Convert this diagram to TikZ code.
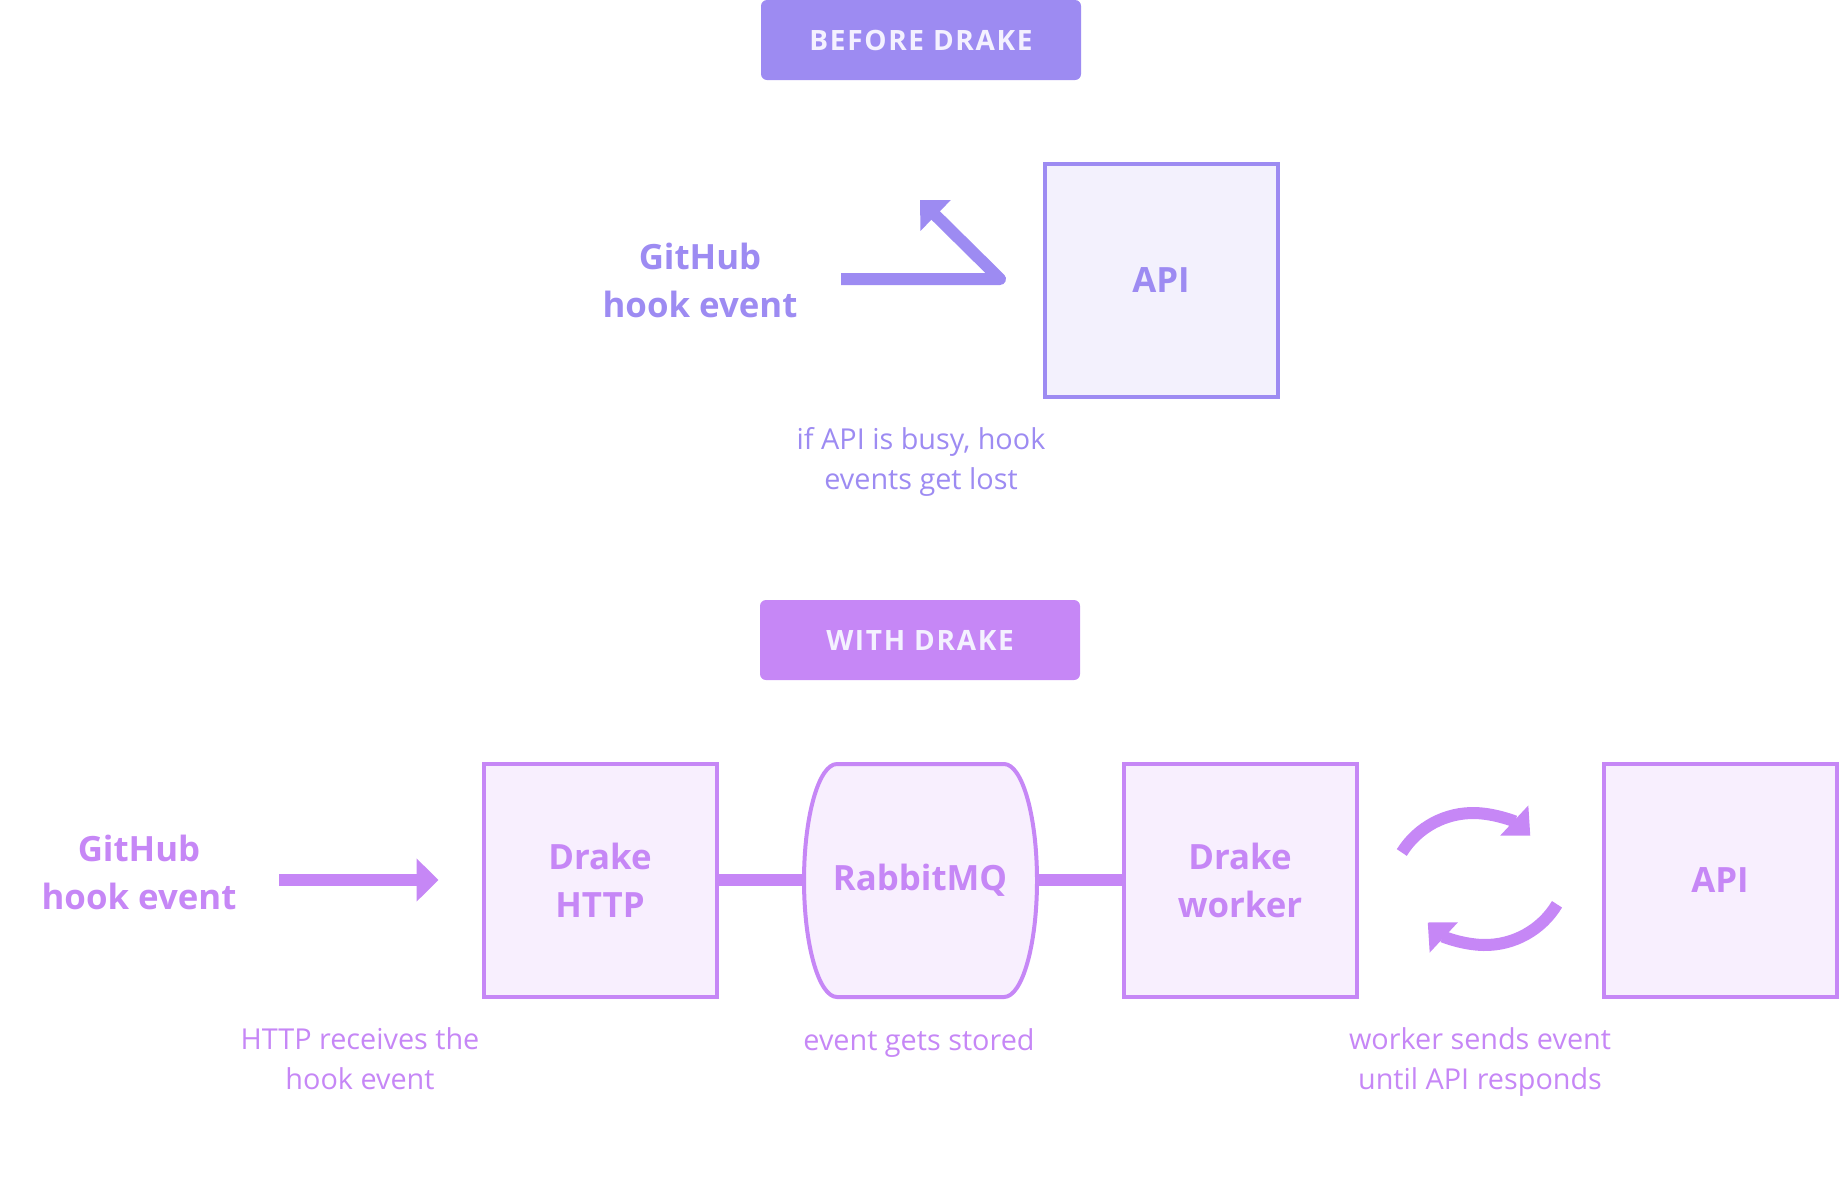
\documentclass[tikz,border=0pt]{standalone}
\usepackage{fontspec}
\setmainfont{Open Sans}
\newfontfamily\bannerfont{Open Sans}[LetterSpace=6]
\usetikzlibrary{arrows.meta}

\definecolor{beforeviolet}{HTML}{9D8BF2}
\definecolor{beforefill}{HTML}{F3F1FD}
\definecolor{withpurple}{HTML}{C687F6}
\definecolor{withfill}{HTML}{F8EFFE}
\definecolor{bannertext}{HTML}{F4F1FF}

\begin{document}
\begin{tikzpicture}[x=0.5pt, y=-0.5pt,
  box/.style={draw, line width=2pt, minimum width=116.5pt, minimum height=116.5pt,
    inner sep=0, align=center, font=\bfseries\fontsize{17.4}{24}\selectfont},
  queue/.style={minimum width=118.5pt, minimum height=118.5pt, inner sep=0, outer sep=0,
    font=\bfseries\fontsize{17.4}{24}\selectfont},
  banner/.style={rounded corners=3pt, minimum width=160pt, minimum height=40pt,
    inner sep=0, text=bannertext, font=\bannerfont\bfseries\fontsize{14}{16}\selectfont},
  hooktext/.style={align=center, inner sep=0, font=\bfseries\fontsize{17.4}{24}\selectfont},
  captiontext/.style={align=center, inner sep=0, font=\fontsize{14.4}{20}\selectfont},
  flow/.style={line width=6pt, line join=round, -{Triangle[length=11pt,width=21pt]}},
  retry/.style={line width=6pt, -{Triangle[length=11pt,width=20pt]}},
  link/.style={line width=6pt}]

  % Fix the page to the size of the reference
  \useasboundingbox (0,0) rectangle (1840,1200);

  % Before Drake: the hook goes straight to the API
  \node[banner, fill=beforeviolet] (before) at (921,40) {BEFORE DRAKE};
  \node[hooktext, text=beforeviolet] (hook1) at (700,280) {GitHub\\hook event};
  \node[box, draw=beforeviolet, fill=beforefill, text=beforeviolet] (api1) at (1161,280) {API};
  \node[captiontext, text=beforeviolet] (lost) at (921,462) {if API is busy, hook\\events get lost};

  % The event bounces back off the busy API
  \coordinate (in1) at (841,279);
  \coordinate (bounce) at (1000,279);
  \coordinate (back) at (920,200);
  \draw[flow, beforeviolet] (in1) -- (bounce) -- (back);

  % With Drake: HTTP, queue, worker, API
  \node[banner, fill=withpurple] (with) at (920,640) {WITH DRAKE};
  \node[hooktext, text=withpurple] (hook2) at (139,872) {GitHub\\hook event};
  \node[box, draw=withpurple, fill=withfill, text=withpurple] (http) at (600,880) {Drake\\HTTP};

  % RabbitMQ: flat top and bottom, half-ellipse sides
  \def\qa{33}
  \def\qb{116.5}
  \filldraw[line width=2pt, draw=withpurple, fill=withfill]
    (837,764) -- (1004,764) arc[start angle=-90, end angle=90, x radius=\qa, y radius=\qb]
    -- (837,997) arc[start angle=90, end angle=270, x radius=\qa, y radius=\qb] -- cycle;
  \node[queue, text=withpurple] (mq) at (920,880) {RabbitMQ};

  \node[box, draw=withpurple, fill=withfill, text=withpurple] (worker) at (1240,880) {Drake\\worker};
  \node[box, draw=withpurple, fill=withfill, text=withpurple] (api2) at (1720,880) {API};

  % Captions under the row
  \node[captiontext, text=withpurple] (receives) at (360,1059) {HTTP receives the\\hook event};
  \node[captiontext, text=withpurple] (stored) at (919,1043) {event gets stored};
  \node[captiontext, text=withpurple] (sends) at (1480,1062) {worker sends event\\until API responds};

  % Hook arrow and the links along the row
  \coordinate (in2) at (279,880);
  \draw[flow, withpurple, shorten >=21.5pt] (in2) -- (http.west);
  \draw[link, withpurple] (http.east) -- (mq.west);
  \draw[link, withpurple] (mq.east) -- (worker.west);

  % Retry loop between worker and API
  \def\rr{84}
  \coordinate (retry1) at (1473,897);
  \coordinate (retry2) at (1485,861);
  \draw[retry, withpurple] (retry1) ++(212:\rr) arc (212:313:\rr);
  \draw[retry, withpurple] (retry2) ++(31:\rr) arc (31:133:\rr);

\end{tikzpicture}
\end{document}
